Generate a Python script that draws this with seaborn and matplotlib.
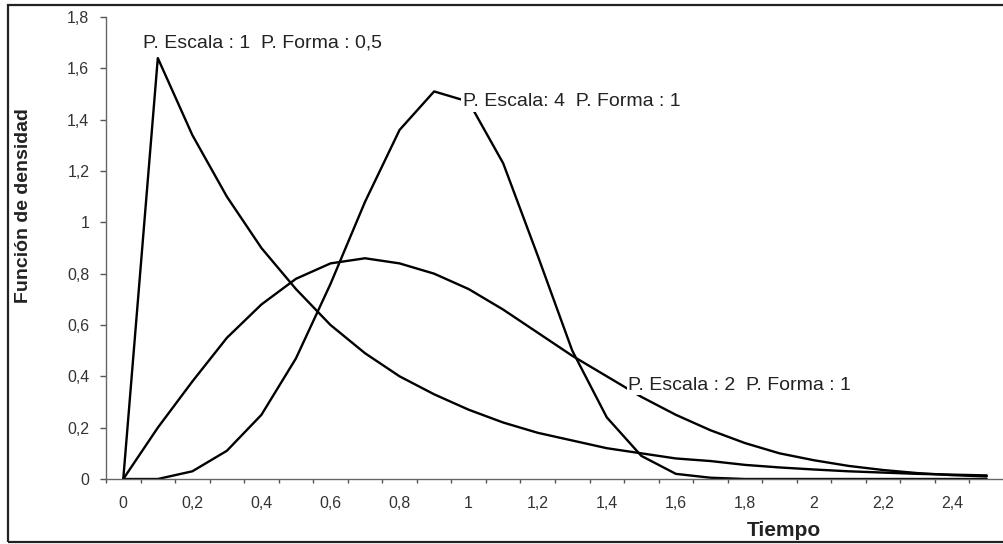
import matplotlib
matplotlib.use("Agg")
import matplotlib.pyplot as plt
import seaborn as sns
import pandas as pd
from matplotlib.patches import Rectangle

# ---- data ----
tiempo = [0.0, 0.1, 0.2, 0.3, 0.4, 0.5, 0.6, 0.7, 0.8, 0.9, 1.0, 1.1, 1.2,
          1.3, 1.4, 1.5, 1.6, 1.7, 1.8, 1.9, 2.0, 2.1, 2.2, 2.3, 2.4, 2.5]

# P. Escala : 1  P. Forma : 0,5
serie_a = [0.00, 1.64, 1.34, 1.10, 0.90, 0.74, 0.60, 0.49, 0.40, 0.33, 0.27,
           0.22, 0.18, 0.15, 0.12, 0.10, 0.08, 0.07, 0.055, 0.045, 0.037, 0.03,
           0.025, 0.02, 0.017, 0.014]
# P. Escala : 4  P. Forma : 1
serie_b = [0.00, 0.00, 0.03, 0.11, 0.25, 0.47, 0.76, 1.08, 1.36, 1.51, 1.47,
           1.23, 0.87, 0.50, 0.24, 0.09, 0.02, 0.005, 0.00, 0.00, 0.00, 0.00,
           0.00, 0.00, 0.00, 0.00]
# P. Escala : 2  P. Forma : 1
serie_c = [0.00, 0.20, 0.38, 0.55, 0.68, 0.78, 0.84, 0.86, 0.84, 0.80, 0.74,
           0.66, 0.57, 0.48, 0.40, 0.32, 0.25, 0.19, 0.14, 0.10, 0.073, 0.051,
           0.035, 0.023, 0.015, 0.01]

etiquetas = ["P. Escala : 1  P. Forma : 0,5",
             "P. Escala: 4  P. Forma : 1",
             "P. Escala : 2  P. Forma : 1"]

x_ticks = [0.0, 0.2, 0.4, 0.6, 0.8, 1.0, 1.2, 1.4, 1.6, 1.8, 2.0, 2.2, 2.4]
x_ticklabels = ["0", "0,2", "0,4", "0,6", "0,8", "1", "1,2", "1,4", "1,6",
                "1,8", "2", "2,2", "2,4"]
y_ticks = [0.0, 0.2, 0.4, 0.6, 0.8, 1.0, 1.2, 1.4, 1.6, 1.8]
y_ticklabels = ["0", "0,2", "0,4", "0,6", "0,8", "1", "1,2", "1,4", "1,6", "1,8"]

# ---- style ----
sns.set_theme(style="white")
plt.rcParams["font.family"] = ["Liberation Sans", "DejaVu Sans"]

W, H = 1004, 544
fig = plt.figure(figsize=(W / 100, H / 100), dpi=100)

ax_left, ax_right = 106, 1004
ax_bottom, ax_top = 479, 17
ax = fig.add_axes([ax_left / W, (H - ax_bottom) / H,
                   (ax_right - ax_left) / W, (ax_bottom - ax_top) / H])

df = pd.DataFrame({"Tiempo": tiempo * 3,
                   "Densidad": serie_a + serie_b + serie_c,
                   "Serie": [etiquetas[0]] * len(tiempo)
                            + [etiquetas[1]] * len(tiempo)
                            + [etiquetas[2]] * len(tiempo)})

sns.lineplot(data=df, x="Tiempo", y="Densidad", units="Serie",
             estimator=None, color="black", linewidth=1.7, ax=ax,
             legend=False, sort=False)

ax.set_xlim(-0.05, (ax_right - 123) / 350.0)
ax.set_ylim(0, 1.8)

ax.set_xticks(x_ticks)
ax.set_xticklabels(x_ticklabels)
ax.set_xticks([t / 10 - 0.05 for t in range(0, 27)], minor=True)
ax.set_yticks(y_ticks)
ax.set_yticklabels(y_ticklabels)

ax.tick_params(axis="x", which="major", length=0, pad=12, labelsize=11.5,
               colors="#333333")
ax.tick_params(axis="x", which="minor", length=3, width=1, color="#555555",
               direction="out", bottom=True)
ax.tick_params(axis="y", which="major", length=4, width=1, color="#555555",
               direction="out", left=True, pad=8, labelsize=11.5,
               labelcolor="#333333")

for s in ["top", "right"]:
    ax.spines[s].set_visible(False)
for s in ["left", "bottom"]:
    ax.spines[s].set_color("#666666")
    ax.spines[s].set_linewidth(1.0)
ax.grid(False)

ax.set_xlabel("")
ax.set_ylabel("")

# axis titles
fig.text(784 / W, 1 - 530 / H, "Tiempo", ha="center", va="center",
         fontsize=15, fontweight="bold", color="#222222")
fig.text(24 / W, 1 - 206 / H, "Función de densidad", ha="center",
         va="center", rotation=90, fontsize=14, fontweight="bold",
         color="#222222")

# curve annotations (anchored in data coordinates)
ax.text(0.057, 1.70, etiquetas[0], fontsize=14, color="#222222",
        ha="left", va="center")
ax.text(0.983, 1.47, etiquetas[1], fontsize=14, color="#222222",
        ha="left", va="center",
        bbox=dict(facecolor="white", edgecolor="none", pad=1.0))
ax.text(1.462, 0.365, etiquetas[2], fontsize=14, color="#222222",
        ha="left", va="center",
        bbox=dict(facecolor="white", edgecolor="none", pad=1.0))

# outer frame
fig.patches.append(Rectangle((8.5 / W, (H - 542) / H), (1020 - 8.5) / W,
                             (542 - 5) / H, transform=fig.transFigure,
                             fill=False, edgecolor="#222222", linewidth=1.6,
                             clip_on=False))

fig.savefig("out.png", dpi=100, facecolor="white")
